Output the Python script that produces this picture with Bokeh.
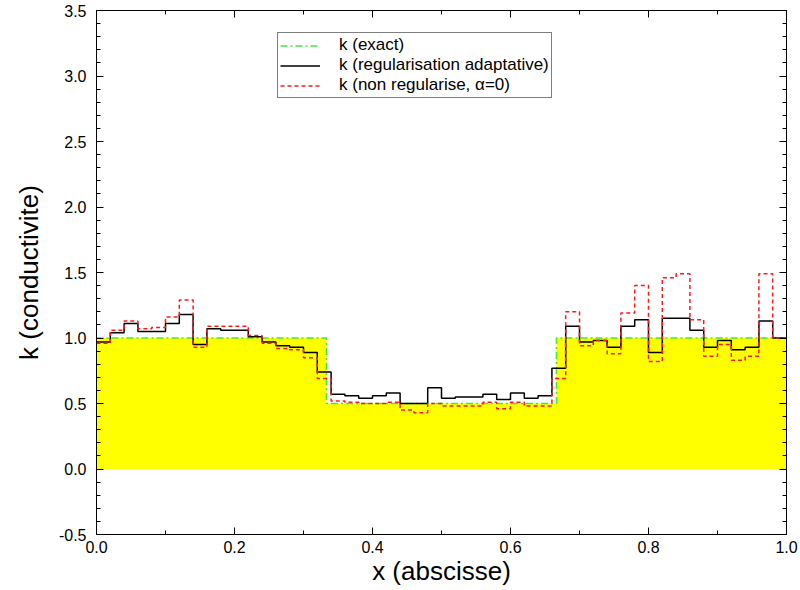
from bokeh.plotting import figure
from bokeh.models import (LinearAxis, Range1d, Legend, LegendItem,
                          SingleIntervalTicker, PrintfTickFormatter,
                          CustomJSTickFormatter)
from bokeh.embed import file_html
from bokeh.resources import INLINE

# ---- data ----
x_bins = [0.00, 0.02, 0.04, 0.06, 0.08, 0.10, 0.12, 0.14, 0.16, 0.18,
          0.20, 0.22, 0.24, 0.26, 0.28, 0.30, 0.32, 0.34, 0.36, 0.38,
          0.40, 0.42, 0.44, 0.46, 0.48, 0.50, 0.52, 0.54, 0.56, 0.58,
          0.60, 0.62, 0.64, 0.66, 0.68, 0.70, 0.72, 0.74, 0.76, 0.78,
          0.80, 0.82, 0.84, 0.86, 0.88, 0.90, 0.92, 0.94, 0.96, 0.98]
x_end = 1.0

k_reg = [0.97, 1.04, 1.11, 1.05, 1.05, 1.11, 1.18, 0.95, 1.07, 1.06,
         1.06, 1.01, 0.97, 0.94, 0.93, 0.89, 0.74, 0.57, 0.56, 0.54,
         0.56, 0.58, 0.50, 0.50, 0.62, 0.54, 0.55, 0.55, 0.57, 0.53,
         0.58, 0.54, 0.56, 0.77, 1.09, 0.97, 0.98, 0.93, 1.09, 1.14,
         0.89, 1.15, 1.15, 1.06, 0.93, 0.98, 0.91, 0.93, 1.13, 1.00]

k_nonreg = [0.96, 1.06, 1.13, 1.07, 1.08, 1.16, 1.29, 0.93, 1.09, 1.09,
            1.09, 1.02, 0.96, 0.92, 0.91, 0.85, 0.69, 0.52, 0.51, 0.50,
            0.50, 0.51, 0.45, 0.43, 0.50, 0.48, 0.48, 0.48, 0.51, 0.46,
            0.51, 0.48, 0.48, 0.69, 1.20, 0.94, 0.98, 0.88, 1.19, 1.40,
            0.82, 1.46, 1.49, 1.14, 0.86, 0.95, 0.83, 0.86, 1.49, 1.00]

exact_x = [0.0, 1.0 / 3.0, 2.0 / 3.0, 1.0]
k_exact = [1.0, 0.5, 1.0]

labels = ["k (exact)", "k (regularisation adaptative)",
          "k (non regularise, \u03b1=0)"]

FONT = "Liberation Sans"

p = figure(width=800, height=590, output_backend="svg", toolbar_location=None,
           x_range=Range1d(0, 1), y_range=Range1d(-0.5, 3.5),
           min_border_left=96, min_border_right=14, min_border_top=10,
           min_border_bottom=56)
p.background_fill_color = "white"
p.border_fill_color = "white"
p.outline_line_color = "black"
p.grid.visible = False

gy = k_exact + [k_exact[-1]]

# yellow area under exact k
p.varea_step(x=exact_x, y1=[0.0] * len(exact_x), y2=gy, step_mode="after",
             fill_color="#ffff00")

r_exact = p.step(exact_x, gy, mode="after", line_color="#44e844",
                 line_width=1.6, line_dash="7 3 2 3")

bx = x_bins + [x_end]
r_reg = p.step(bx, k_reg + [k_reg[-1]], mode="after", line_color="black",
               line_width=1.5)
r_non = p.step(bx, k_nonreg + [k_nonreg[-1]], mode="after",
               line_color="#ff1a1a", line_width=1.5, line_dash="4 3")

legend = Legend(items=[LegendItem(label=labels[0], renderers=[r_exact]),
                       LegendItem(label=labels[1], renderers=[r_reg]),
                       LegendItem(label=labels[2], renderers=[r_non])],
                location=(181, 436))
legend.label_text_font = FONT
legend.label_text_font_size = "17px"
legend.label_text_color = "black"
legend.border_line_color = "black"
legend.border_line_width = 1
legend.background_fill_alpha = 1.0
legend.padding = 2
legend.spacing = 0
legend.margin = 0
legend.glyph_width = 40
legend.glyph_height = 17
legend.label_height = 17
legend.label_standoff = 19
p.add_layout(legend)

xt = SingleIntervalTicker(interval=0.2, num_minor_ticks=2)
yt = SingleIntervalTicker(interval=0.5, num_minor_ticks=5)
fmt = PrintfTickFormatter(format="%.1f")
blank = CustomJSTickFormatter(code="return ''")


def style_axis(ax, ticker, show_labels):
    ax.ticker = ticker
    ax.axis_line_color = "black"
    ax.major_tick_line_color = "black"
    ax.minor_tick_line_color = "black"
    ax.major_tick_in = 7
    ax.major_tick_out = 0
    ax.minor_tick_in = 4
    ax.minor_tick_out = 0
    if show_labels:
        ax.formatter = fmt
        ax.major_label_text_font = FONT
        ax.major_label_text_font_size = "16px"
        ax.major_label_text_color = "black"
        ax.axis_label_text_font = FONT
        ax.axis_label_text_font_size = "26px"
        ax.axis_label_text_font_style = "normal"
        ax.axis_label_text_color = "black"
    else:
        ax.formatter = blank
        ax.major_label_text_font_size = "1px"
        ax.major_label_standoff = 0
        ax.axis_label = None


style_axis(p.xaxis[0], xt, True)
p.xaxis[0].axis_label = "x (abscisse)"
p.xaxis[0].major_label_standoff = 6
p.xaxis[0].axis_label_standoff = 0
style_axis(p.yaxis[0], yt, True)
p.yaxis[0].axis_label = "k (conductivite)"
p.yaxis[0].major_label_standoff = 10
p.yaxis[0].axis_label_standoff = 12

right = LinearAxis()
style_axis(right, SingleIntervalTicker(interval=0.5, num_minor_ticks=5), False)
p.add_layout(right, "right")
top = LinearAxis()
style_axis(top, SingleIntervalTicker(interval=0.2, num_minor_ticks=2), False)
p.add_layout(top, "above")

open("out.html", "w").write(file_html(p, INLINE))
